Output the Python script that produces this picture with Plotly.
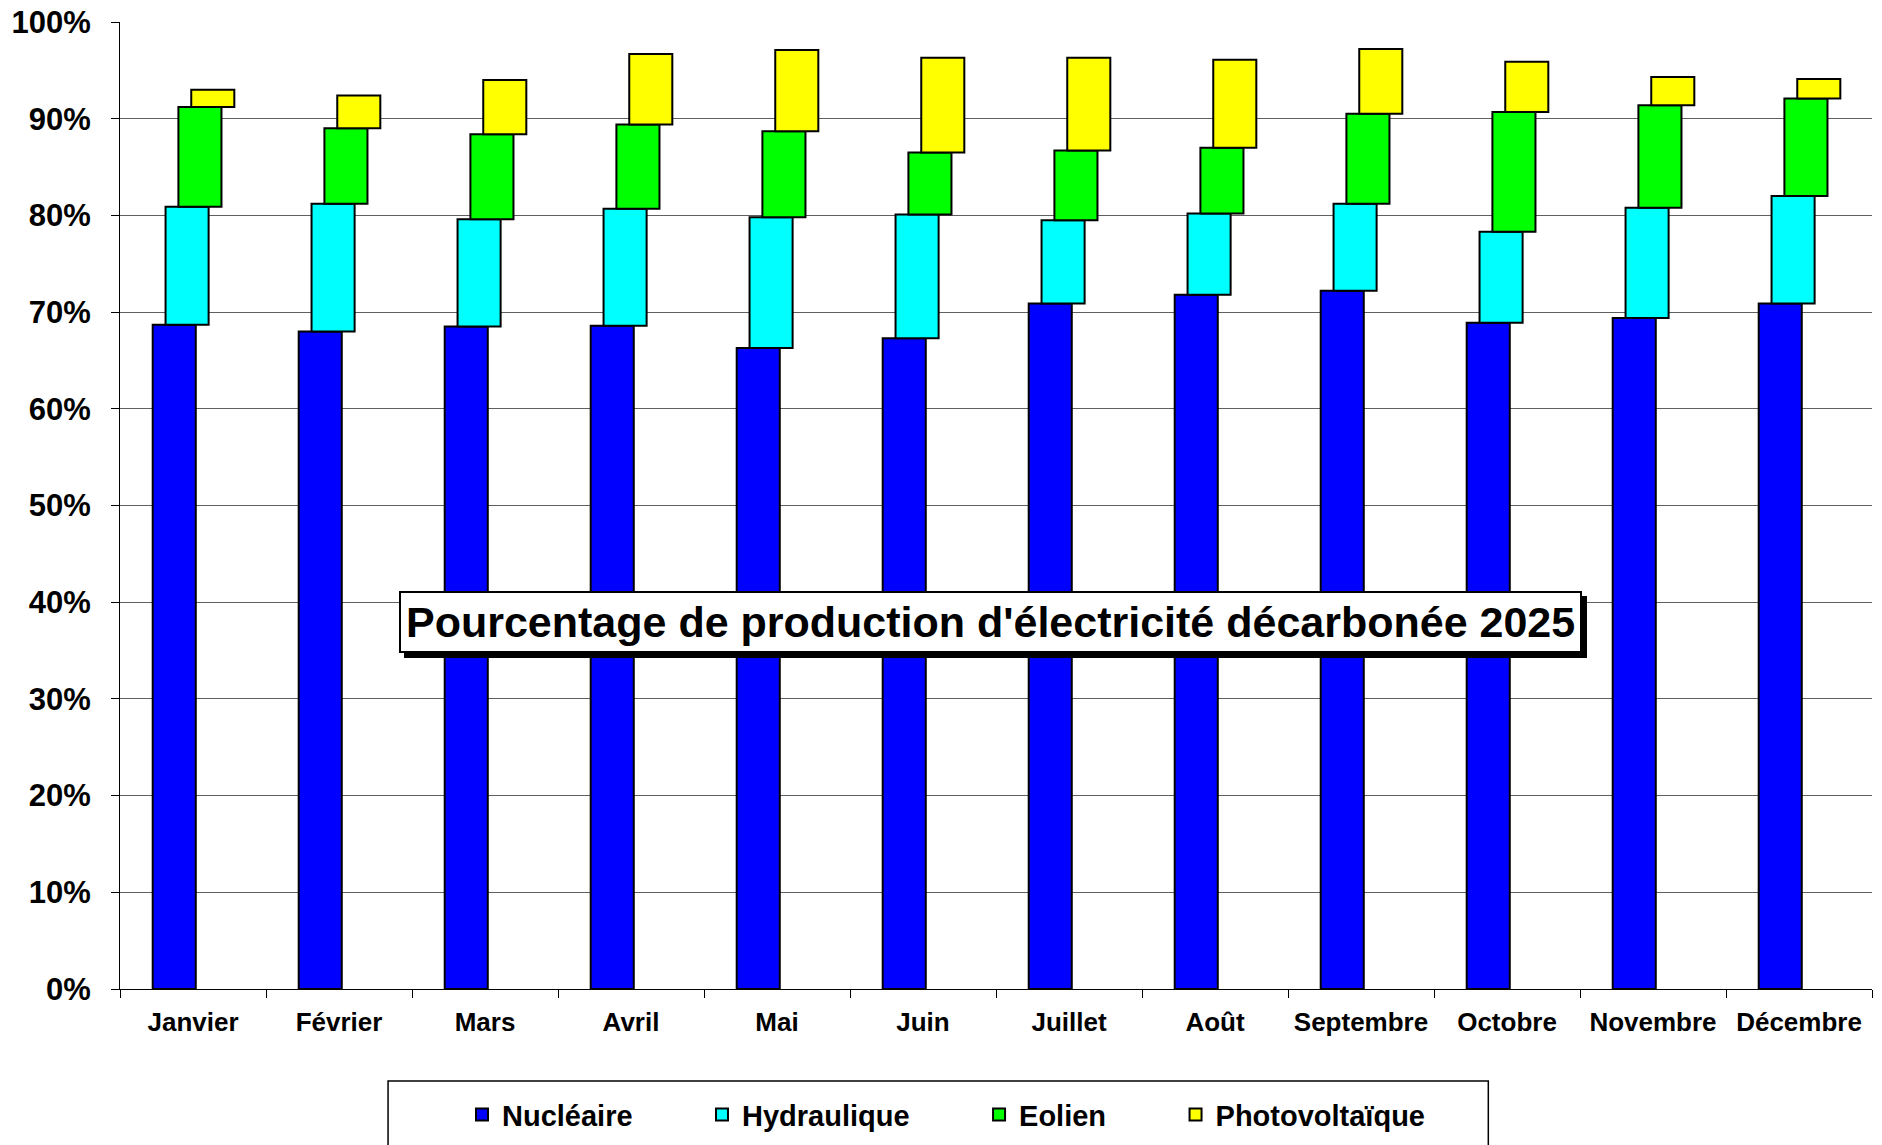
import plotly.graph_objects as go

# Données (% de la production)
mois = ['Janvier', 'Février', 'Mars', 'Avril', 'Mai', 'Juin', 'Juillet',
        'Août', 'Septembre', 'Octobre', 'Novembre', 'Décembre']
nucleaire = [68.7, 68.0, 68.5, 68.6, 66.3, 67.3, 70.9, 71.8, 72.2, 68.9, 69.4, 70.9]
hydraulique = [12.2, 13.2, 11.1, 12.1, 13.5, 12.8, 8.6, 8.4, 9.0, 9.4, 11.4, 11.1]
eolien = [10.3, 7.8, 8.8, 8.7, 8.9, 6.4, 7.2, 6.8, 9.3, 12.4, 10.6, 10.1]
photovoltaique = [1.8, 3.4, 5.6, 7.3, 8.4, 9.8, 9.6, 9.1, 6.7, 5.2, 2.9, 2.0]

series = [('Nucléaire', nucleaire, '#0000FF'),
          ('Hydraulique', hydraulique, '#00FFFF'),
          ('Eolien', eolien, '#00FF00'),
          ('Photovoltaïque', photovoltaique, '#FFFF00')]

# padding so the legend entries are spread like in the original
pad = '\u00a0' * 8

fig = go.Figure()
base = [0.0] * len(mois)
for k, (nom, vals, coul) in enumerate(series):
    fig.add_trace(go.Bar(
        x=mois, y=vals, base=base[:], name=nom + pad,
        width=0.295, offset=-0.276 + k * 0.088,
        marker=dict(color=coul, line=dict(color='black', width=2)),
    ))
    base = [b + v for b, v in zip(base, vals)]

titre = "Pourcentage de production d'électricité décarbonée 2025"
font_titre = dict(family='Liberation Sans', size=43, weight='bold')

fig.update_layout(
    width=1882, height=1145,
    barmode='overlay',
    plot_bgcolor='white', paper_bgcolor='white',
    margin=dict(l=112, r=18, t=14, b=164, autoexpand=False),
    font=dict(family='Liberation Sans', color='black'),
    showlegend=True,
    legend=dict(orientation='h', x=0.490, xanchor='center', y=-0.130, yanchor='middle',
                font=dict(size=29, weight='bold'), bgcolor='rgba(0,0,0,0)',
                itemwidth=30, traceorder='normal'),
    shapes=[dict(type='rect', xref='paper', yref='paper', x0=0.153, x1=0.781,
                 y0=-0.0951, y1=-0.25, line=dict(color='black', width=1.5))],
    annotations=[
        # ombre du cadre
        dict(text=titre, xref='paper', yref='paper', x=0.4966, y=0.3795,
             showarrow=False, font=dict(font_titre, color='black'), bgcolor='black',
             bordercolor='black', borderwidth=2, borderpad=5, xshift=5, yshift=-5),
        dict(text=titre, xref='paper', yref='paper', x=0.4966, y=0.3795,
             showarrow=False, font=font_titre, bgcolor='white',
             bordercolor='black', borderwidth=2, borderpad=5),
    ],
)

fig.update_yaxes(range=[0, 100], dtick=10, ticksuffix='%',
                 showgrid=True, gridcolor='#606060', gridwidth=1,
                 showline=True, linecolor='black', linewidth=1,
                 ticks='outside', ticklen=8, tickcolor='black',
                 ticklabelstandoff=14, ticklabeloverflow='allow',
                 tickfont=dict(size=31, weight='bold'), zeroline=False)
fig.update_xaxes(showgrid=False, showline=True, linecolor='black', linewidth=1,
                 ticks='outside', ticklen=8, tickcolor='black', tickson='boundaries',
                 ticklabelstandoff=10,
                 tickfont=dict(size=26, weight='bold'))

fig.write_html('out.html')
